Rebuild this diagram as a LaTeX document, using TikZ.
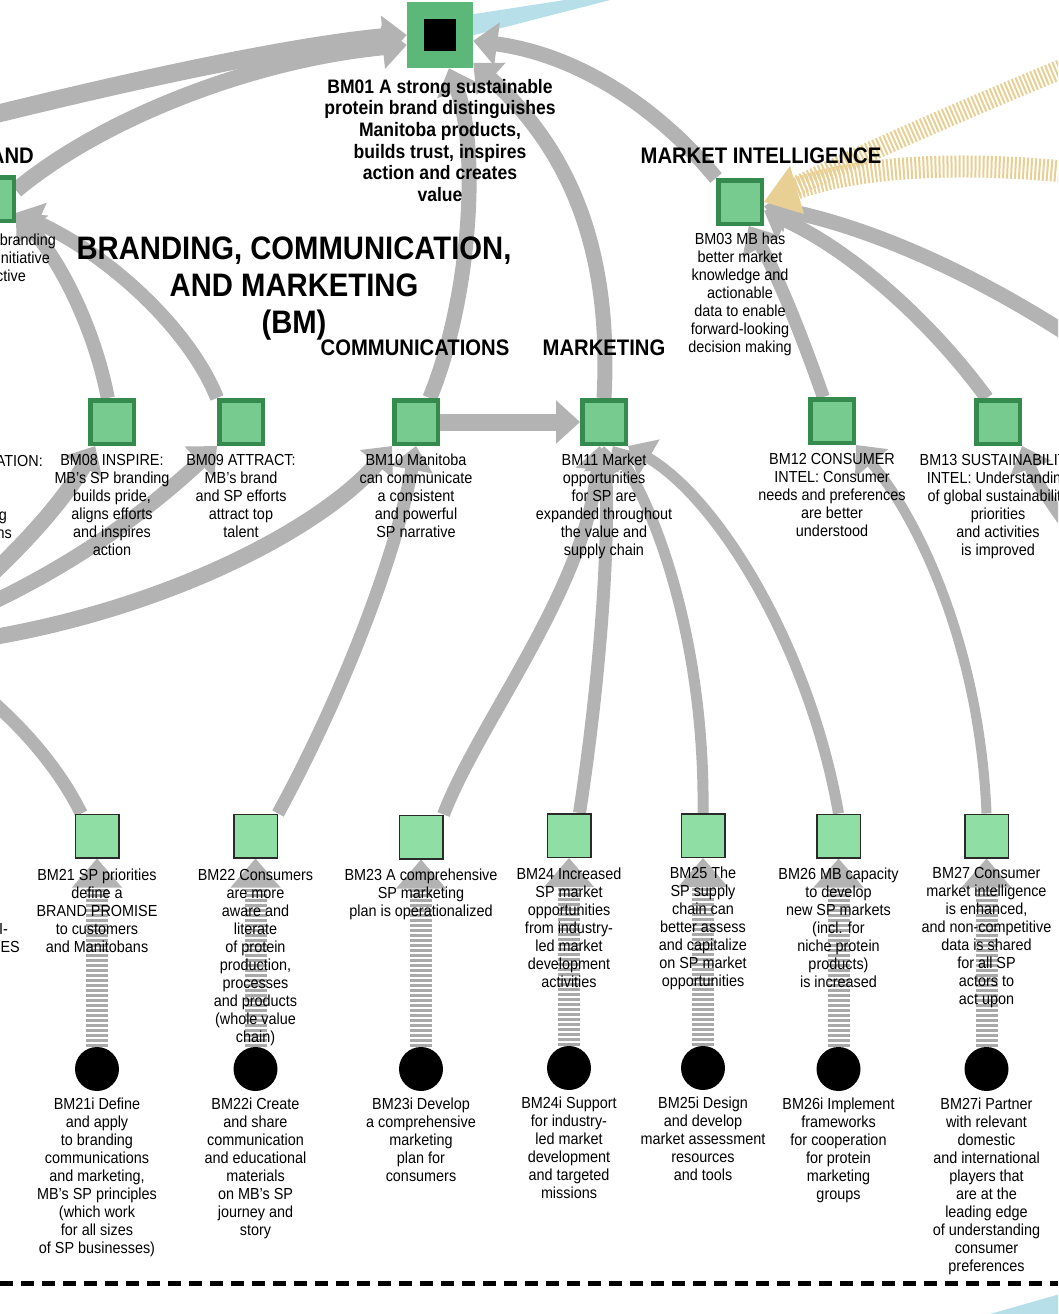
\documentclass[tikz,border=0pt]{standalone}
\usepackage{fontspec}
\setmainfont{Liberation Sans}[FakeStretch=0.9]
\usetikzlibrary{arrows.meta}

\definecolor{bandgray}{HTML}{B3B3B3}
\definecolor{hatchgray}{HTML}{A9A9A9}
\definecolor{goalgreen}{HTML}{5CB878}
\definecolor{lvtwofill}{HTML}{78CB8F}
\definecolor{lvtwoline}{HTML}{358B4E}
\definecolor{lvthreefill}{HTML}{8FDFA5}
\definecolor{lvthreeline}{HTML}{2A2A2A}
\definecolor{tancol}{HTML}{E8CF94}
\definecolor{linkblue}{HTML}{B6DFE9}

\pgfdeclarelayer{bg}
\pgfsetlayers{bg,main}

\begin{document}
\begin{tikzpicture}[x=1pt,y=-1pt,
  band/.style={draw=bandgray, line width=#1, -{Triangle[length=24pt,width=42pt]}},
  band/.default=15pt,
  tanband/.style={draw=tancol, line width=#1, dash pattern=on 2pt off 2pt, shorten >=26pt},
  shaft/.style={draw=hatchgray, line width=22pt, dash pattern=on 2.5pt off 2.5pt},
  shafttip/.style={fill=bandgray},
  goalbox/.style={rectangle, fill=goalgreen, minimum size=66pt, inner sep=0pt},
  goalcore/.style={rectangle, fill=black, minimum size=32pt, inner sep=0pt},
  lvtwo/.style={rectangle, draw=lvtwoline, fill=lvtwofill, line width=4.5pt, minimum size=43.5pt, inner sep=0pt},
  lvthree/.style={rectangle, draw=lvthreeline, fill=lvthreefill, line width=1.5pt, minimum size=43.5pt, inner sep=0pt},
  act/.style={circle, fill=black, minimum size=44pt, inner sep=0pt},
  lbl/.style={align=center, inner sep=0pt, anchor=north, font=\fontsize{16}{18}\selectfont},
  goallbl/.style={align=center, inner sep=0pt, anchor=north, font=\bfseries\fontsize{19.5}{21.6}\selectfont},
  sect/.style={inner sep=0pt, font=\bfseries\fontsize{22.5}{27}\selectfont},
  bigtitle/.style={align=center, inner sep=0pt, anchor=north, font=\bfseries\fontsize{32.5}{37}\selectfont},
  frag/.style={inner sep=0pt, anchor=base east, font=\fontsize{16}{18}\selectfont},
  dashrule/.style={draw=black, line width=5pt, dash pattern=on 13pt off 8pt}
]
\useasboundingbox (0,0) rectangle (1058,1314);

% ---------- nodes ----------
\node[goalbox] (bm01) at (440,35) {};
\node[goalcore] (bm01core) at (440,35.5) {};

\node[lvtwo] (brandbox) at (-8,199) {};
\node[lvtwo] (bm03) at (740,202) {};
\node[lvtwo] (bm08) at (112,422) {};
\node[lvtwo] (bm09) at (241,422) {};
\node[lvtwo] (bm10) at (416,422) {};
\node[lvtwo] (bm11) at (604,422) {};
\node[lvtwo] (bm12) at (832,421) {};
\node[lvtwo] (bm13) at (998,422) {};

\node[lvthree] (bm21) at (97,836) {};
\node[lvthree] (bm22) at (255.5,836) {};
\node[lvthree] (bm23) at (421,837) {};
\node[lvthree] (bm24) at (569,835.5) {};
\node[lvthree] (bm25) at (703,835.5) {};
\node[lvthree] (bm26) at (838.5,836) {};
\node[lvthree] (bm27) at (986.5,836) {};

\node[act] (bm21i) at (97,1069) {};
\node[act] (bm22i) at (255.5,1069) {};
\node[act] (bm23i) at (421,1069) {};
\node[act] (bm24i) at (569,1068) {};
\node[act] (bm25i) at (703,1068) {};
\node[act] (bm26i) at (838.5,1069) {};
\node[act] (bm27i) at (986.5,1069) {};

% loose ends of links that continue beyond the frame
\coordinate (offA) at (-60,128);
\coordinate (offI) at (-60,620);
\coordinate (offJ) at (-60,625);
\coordinate (offK) at (-60,645);
\coordinate (offL) at (-60,660);
\coordinate (offU) at (1120,370);
\coordinate (offV) at (1110,580);
\coordinate (offW1) at (1120,45);
\coordinate (offW2) at (1120,178);
\coordinate (dashL) at (0,1283);
\coordinate (dashR) at (1058,1283);

% ---------- links (drawn underneath) ----------
\begin{pgfonlayer}{bg}
\fill[white] (0,0) rectangle (1058,1314);
\clip (0,0) rectangle (1058,1314);

% light blue outgoing links
\fill[linkblue] (455,17) -- (578,-2) -- (618,-2) -- (455,40) -- cycle;
\fill[linkblue] (983,1316) -- (1060,1294) -- (1060,1316) -- cycle;

% into the goal
\draw[band=18pt] (offA) .. controls (150,75) and (300,45) .. (bm01.west);
\draw[band=16pt] (brandbox.20) .. controls (100,120) and (250,60) .. ([yshift=-10pt]bm01.west);
\draw[band] (bm10.60) .. controls (470,300) and (480,150) .. (bm01.-75);
\draw[band] (bm11.north) .. controls (612,250) and (570,150) .. (bm01.-40);
\draw[band] (bm03.north west) .. controls (660,110) and (580,55) .. (bm01.-10);

% communications / marketing
\draw[band=17pt] (bm10) -- (bm11);
\draw[band=14pt] (bm08.100) .. controls (95,330) and (60,260) .. (brandbox.-30);
\draw[band=14pt] (bm09.north west) .. controls (190,330) and (110,255) .. (brandbox.-30);
\draw[band=16pt] (offI) .. controls (30,545) and (70,490) .. (bm08.-125);
\draw[band=15pt] (offJ) .. controls (80,570) and (170,490) .. (bm09.south west);
\draw[band=16pt] (offK) .. controls (150,620) and (320,530) .. (bm10.south west);
\draw[band=13pt] (bm21.125) .. controls (60,770) and (20,720) .. (offL);
\draw[band=13pt] (bm22.north east) .. controls (340,700) and (395,560) .. (bm10.south);
\draw[band=13pt] (bm23.north east) .. controls (480,720) and (585,590) .. (bm11.-100);
\draw[band=13pt] (bm24.65) .. controls (600,680) and (610,540) .. (bm11.south);
\draw[band=11pt] (bm25.north) .. controls (705,650) and (660,520) .. (bm11.-70);
\draw[band=11pt] (bm26.north) .. controls (810,650) and (720,500) .. (bm11.south east);

% market intelligence
\draw[band=10pt] (bm27.north) .. controls (980,650) and (920,520) .. (bm12.south east);
\draw[band=13pt] (bm12.110) .. controls (800,330) and (775,270) .. (bm03.-70);
\draw[band=14pt] (bm13.115) .. controls (930,320) and (850,250) .. (bm03.-20);
\draw[band=15pt] (offU) .. controls (980,270) and (860,225) .. (bm03.-10);
\draw[band=12pt] (offV) .. controls (1060,520) and (1035,480) .. (bm13.south east);

% hatched links from outside
\draw[tanband=20pt] (offW1) .. controls (960,110) and (850,160) .. (bm03.east);
\draw[tanband=22pt] (offW2) .. controls (950,155) and (840,170) .. (bm03.east);
\fill[tancol] (bm03.east) -- +(26,-36) -- +(40,12) -- cycle;

% activities feeding the outputs
\foreach \o in {21,22,23,24,25,26,27}{
  \draw[shaft] (bm\o i.north) -- ([yshift=-26pt]bm\o.south);
  \fill[shafttip] (bm\o.south) -- +(-25,29) -- +(25,29) -- cycle;
}

% boundary
\draw[dashrule] (dashL) -- (dashR);
\end{pgfonlayer}

% ---------- headings ----------
\node[sect, anchor=east] (brandhead) at (34,156) {AND};
\node[sect] (mihead) at (761,156) {MARKET INTELLIGENCE};
\node[sect] (commhead) at (415,348) {COMMUNICATIONS};
\node[sect] (mkthead) at (604,348) {MARKETING};
\node[bigtitle] (maintitle) at (294,237) {BRANDING, COMMUNICATION,\\AND MARKETING\\(BM)};

% ---------- labels ----------
\node[goallbl] (bm01txt) at (440,79) {BM01 A strong sustainable\\protein brand distinguishes\\Manitoba products,\\builds trust, inspires\\action and creates\\value};

\node[frag] (f1) at (56,245) {branding};
\node[frag] (f2) at (50,263) {initiative};
\node[frag] (f3) at (26,281) {ctive};
\node[frag] (f4) at (43,466) {ATION:};
\node[frag] (f5) at (7,520) {g};
\node[frag] (f6) at (12,538) {ns};
\node[frag] (f7) at (8,934) {I-};
\node[frag] (f8) at (20,952) {ES};

\node[lbl] (bm03txt) at (740,233) {BM03 MB has\\better market\\knowledge and\\actionable\\data to enable\\forward-looking\\decision making};
\node[lbl] (bm08txt) at (112,454) {BM08 INSPIRE:\\MB's SP branding\\builds pride,\\aligns efforts\\and inspires\\action};
\node[lbl] (bm09txt) at (241,454) {BM09 ATTRACT:\\MB's brand\\and SP efforts\\attract top\\talent};
\node[lbl] (bm10txt) at (416,454) {BM10 Manitoba\\can communicate\\a consistent\\and powerful\\SP narrative};
\node[lbl] (bm11txt) at (604,454) {BM11 Market\\opportunities\\for SP are\\expanded throughout\\the value and\\supply chain};
\node[lbl] (bm12txt) at (832,453) {BM12 CONSUMER\\INTEL: Consumer\\needs and preferences\\are better\\understood};
\node[lbl] (bm13txt) at (998,454) {BM13 SUSTAINABILITY\\INTEL: Understanding\\of global sustainability\\priorities\\and activities\\is improved};

\node[lbl] (bm21txt) at (97,869) {BM21 SP priorities\\define a\\BRAND PROMISE\\to customers\\and Manitobans};
\node[lbl] (bm22txt) at (255.5,869) {BM22 Consumers\\are more\\aware and\\literate\\of protein\\production,\\processes\\and products\\(whole value\\chain)};
\node[lbl] (bm23txt) at (421,869) {BM23 A comprehensive\\SP marketing\\plan is operationalized};
\node[lbl] (bm24txt) at (569,868) {BM24 Increased\\SP market\\opportunities\\from industry-\\led market\\development\\activities};
\node[lbl] (bm25txt) at (703,867) {BM25 The\\SP supply\\chain can\\better assess\\and capitalize\\on SP market\\opportunities};
\node[lbl] (bm26txt) at (838.5,868) {BM26 MB capacity\\to develop\\new SP markets\\(incl. for\\niche protein\\products)\\is increased};
\node[lbl] (bm27txt) at (986.5,867) {BM27 Consumer\\market intelligence\\is enhanced,\\and non-competitive\\data is shared\\for all SP\\actors to\\act upon};

\node[lbl] (bm21itxt) at (97,1098) {BM21i Define\\and apply\\to branding\\communications\\and marketing,\\MB's SP principles\\(which work\\for all sizes\\of SP businesses)};
\node[lbl] (bm22itxt) at (255.5,1098) {BM22i Create\\and share\\communication\\and educational\\materials\\on MB's SP\\journey and\\story};
\node[lbl] (bm23itxt) at (421,1098) {BM23i Develop\\a comprehensive\\marketing\\plan for\\consumers};
\node[lbl] (bm24itxt) at (569,1097) {BM24i Support\\for industry-\\led market\\development\\and targeted\\missions};
\node[lbl] (bm25itxt) at (703,1097) {BM25i Design\\and develop\\market assessment\\resources\\and tools};
\node[lbl] (bm26itxt) at (838.5,1098) {BM26i Implement\\frameworks\\for cooperation\\for protein\\marketing\\groups};
\node[lbl] (bm27itxt) at (986.5,1098) {BM27i Partner\\with relevant\\domestic\\and international\\players that\\are at the\\leading edge\\of understanding\\consumer\\preferences};
\end{tikzpicture}
\end{document}
